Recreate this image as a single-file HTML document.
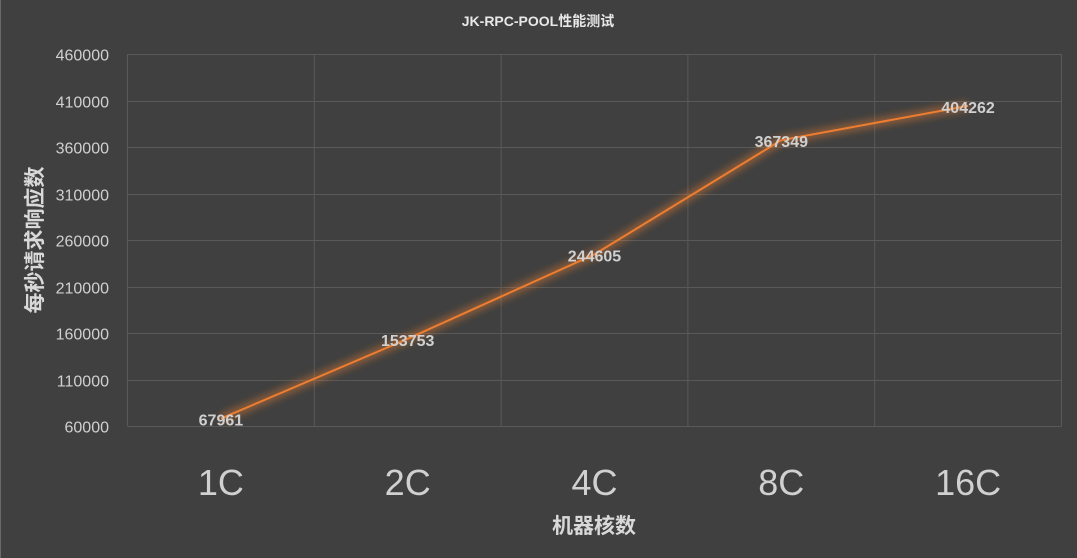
<!DOCTYPE html>
<html><head><meta charset="utf-8"><style>
body{margin:0;background:#404040;}
svg{display:block;font-family:"Liberation Sans","Noto Sans CJK SC",sans-serif;}
</style></head><body>
<svg id="c" width="1077" height="558">
<defs><filter id="glow" x="-20%" y="-50%" width="140%" height="200%"><feGaussianBlur stdDeviation="4"/></filter></defs>
<rect x="0" y="0" width="1077" height="558" fill="#404040"/>
<rect x="0" y="0" width="1" height="558" fill="#6a6a6a"/>
<text x="538" y="26" text-anchor="middle" font-size="14" font-weight="bold" fill="#e8e8e8">JK-RPC-POOL性能测试</text>
<text x="594" y="533" text-anchor="middle" font-size="21" font-weight="bold" fill="#d9d9d9">机器核数</text>
<text transform="translate(42,240) rotate(-90)" text-anchor="middle" font-size="21" font-weight="bold" fill="#d9d9d9">每秒请求响应数</text>
<g id="grid"></g><g id="marks"></g>
</svg>
<script>
const categories=["1C","2C","4C","8C","16C"];
const values=[67961,153753,244605,367349,404262];
const yTicks=[60000,110000,160000,210000,260000,310000,360000,410000,460000];
const L=127.5,R=1061.5,T=54,B=426,yMin=60000,yMax=460000;
const NS="http://www.w3.org/2000/svg";
const band=(R-L)/categories.length;
const xs=i=>L+band*(i+0.5);
const ys=v=>B-(v-yMin)/(yMax-yMin)*(B-T);
const grid=document.getElementById('grid'),marks=document.getElementById('marks');
function mk(tag,a,p){const e=document.createElementNS(NS,tag);for(const k in a)e.setAttribute(k,a[k]);p.appendChild(e);return e;}
yTicks.forEach(t=>{
  const y=Math.round(ys(t))+0.5;
  const l=mk('line',{x1:L,x2:R,y1:y,y2:y,stroke:'#595959','stroke-width':1},grid);
  
  
  const tx=mk('text',{x:109,y:y+6,'text-anchor':'end','font-size':16,fill:'#d0d0d0'},grid);
  tx.textContent=t;
  
  
});
for(let i=0;i<=categories.length;i++){
  const x=L+band*i;
  const l=mk('line',{x1:x,x2:x,y1:T,y2:B,stroke:'#595959','stroke-width':1},grid);
  
  
}
categories.forEach((c,i)=>{
  const tx=mk('text',{x:xs(i),y:495,'text-anchor':'middle','font-size':36,fill:'#d0d0d0'},grid);
  tx.textContent=c;
  
  
});
const pts=values.map((v,i)=>xs(i)+','+ys(v)).join(' ');
const g=mk('polyline',{points:pts,fill:'none',stroke:'#ed7d31','stroke-width':7,'stroke-opacity':0.55,filter:'url(#glow)'},marks);


const ln=mk('polyline',{points:pts,fill:'none',stroke:'#ed7d31','stroke-width':2},marks);


values.forEach((v,i)=>{
  const tx=mk('text',{x:xs(i),y:ys(v)+7,'text-anchor':'middle','font-size':16,'font-weight':'bold',fill:'#d0d0d0'},marks);
  tx.textContent=v;
  
  
});
</script>
</body></html>
